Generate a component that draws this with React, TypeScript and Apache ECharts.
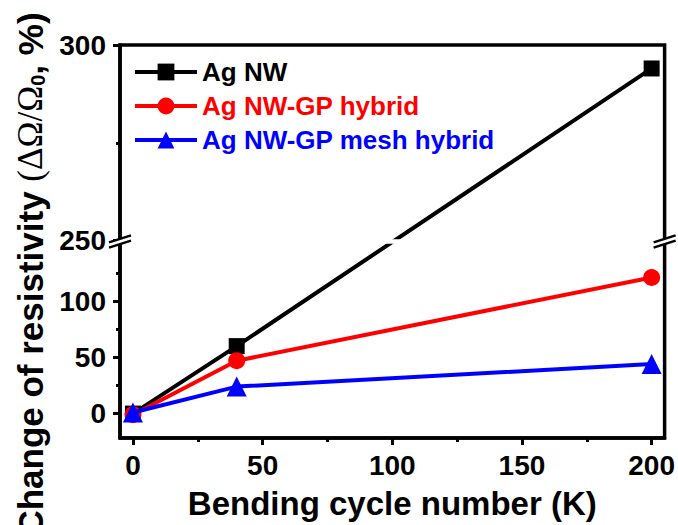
import React, { useEffect, useRef } from 'react';
import * as echarts from 'echarts';

// ---- data ----
const cycles = [0, 40, 200];
const agNW = [0, 60, 294];
const agNWGP = [-1, 47, 121];
const agNWGPMesh = [1, 24, 44];
const seriesNames = ['Ag NW', 'Ag NW-GP hybrid', 'Ag NW-GP mesh hybrid'];
const seriesValues = [agNW, agNWGP, agNWGPMesh];
const seriesColors = ['#000000', '#ff0000', '#0000ff'];
const seriesSymbols = ['rect', 'circle', 'triangle'];
const seriesSymbolSizes = [16, 17, 20];
const xMajorTicks = [0, 50, 100, 150, 200];
const xMinorTicks = [25, 75, 125, 175];
const yMajorTicks = [0, 50, 100, 250, 300];
const yMinorTicks = [25, 75, 125, 275];
const xRange = [-5, 205];
const lowerRange = [-21.7, 153];
const upperRange = [249.75, 300];
const LOWER_SHARE = 0.5;

const FONT = "'Liberation Sans', Arial, Helvetica, sans-serif";

// broken-axis mapping: value -> position on a 0..1 axis
function toAxis(v: number): number {
  if (v <= lowerRange[1]) {
    return ((v - lowerRange[0]) / (lowerRange[1] - lowerRange[0])) * LOWER_SHARE;
  }
  return LOWER_SHARE + ((v - upperRange[0]) / (upperRange[1] - upperRange[0])) * (1 - LOWER_SHARE);
}
function fromAxis(u: number): number {
  if (u <= LOWER_SHARE) {
    return lowerRange[0] + (u / LOWER_SHARE) * (lowerRange[1] - lowerRange[0]);
  }
  return upperRange[0] + ((u - LOWER_SHARE) / (1 - LOWER_SHARE)) * (upperRange[1] - upperRange[0]);
}

export default function App() {
  const ref = useRef<HTMLDivElement>(null);
  useEffect(() => {
    if (!ref.current) return;
    const chart = echarts.init(ref.current, null, { renderer: 'svg' });
    const axisLineStyle = { color: '#000', width: 3.5 };
    const option: any = {
      animation: false,
      backgroundColor: '#fff',
      grid: {
        left: 120, right: 13, top: 45, bottom: 78,
        show: true, borderColor: '#000', borderWidth: 3.5, containLabel: false,
      },
      legend: {
        orient: 'vertical',
        left: 128,
        top: 54,
        itemWidth: 62,
        itemHeight: 21,
        itemGap: 8,
        lineStyle: { width: 4 },
        textStyle: { fontFamily: FONT, fontWeight: 'bold', fontSize: 26 },
        data: seriesNames.map((n, i) => ({ name: n, textStyle: { color: seriesColors[i] } })),
      },
      xAxis: [
        {
          type: 'value', position: 'bottom', min: xRange[0], max: xRange[1],
          axisLine: { show: true, onZero: false, lineStyle: axisLineStyle },
          axisTick: { show: true, length: 7, customValues: xMajorTicks, lineStyle: { color: '#000', width: 3 } },
          axisLabel: {
            customValues: xMajorTicks, margin: 13, color: '#000',
            fontFamily: FONT, fontWeight: 'bold', fontSize: 28,
          },
          splitLine: { show: false },
          name: 'Bending cycle number (K)',
          nameLocation: 'middle',
          nameGap: 49,
          nameTextStyle: { fontFamily: FONT, fontWeight: 'bold', fontSize: 33, color: '#000' },
        },
        {
          type: 'value', position: 'bottom', min: xRange[0], max: xRange[1],
          axisLine: { show: false, onZero: false },
          axisTick: { show: true, length: 4, customValues: xMinorTicks, lineStyle: { color: '#000', width: 3 } },
          axisLabel: { show: false },
          splitLine: { show: false },
        },
      ],
      yAxis: [
        {
          type: 'value', position: 'left', min: 0, max: 1,
          axisLine: { show: true, onZero: false, lineStyle: axisLineStyle },
          axisTick: { show: true, length: 7, customValues: yMajorTicks.map(toAxis), lineStyle: { color: '#000', width: 3 } },
          axisLabel: {
            customValues: yMajorTicks.map(toAxis), margin: 14, color: '#000',
            fontFamily: FONT, fontWeight: 'bold', fontSize: 28,
            formatter: (u: number) => String(Math.round(fromAxis(u))),
          },
          splitLine: { show: false },
        },
        {
          type: 'value', position: 'left', min: 0, max: 1,
          axisLine: { show: false, onZero: false },
          axisTick: { show: true, length: 4, customValues: yMinorTicks.map(toAxis), lineStyle: { color: '#000', width: 3 } },
          axisLabel: { show: false },
          splitLine: { show: false },
        },
      ],
      series: seriesNames.map((name, i) => ({
        name,
        type: 'line',
        xAxisIndex: 0,
        yAxisIndex: 0,
        data: cycles.map((c, j) => [c, toAxis(seriesValues[i][j])]),
        symbol: seriesSymbols[i],
        symbolSize: seriesSymbolSizes[i],
        showAllSymbol: true,
        lineStyle: { color: seriesColors[i], width: 4 },
        itemStyle: { color: seriesColors[i] },
        z: 2 + i,
      })),
    };
    chart.setOption(option);

    const xL = chart.convertToPixel({ xAxisIndex: 0 }, xRange[0]) as number;
    const xR = chart.convertToPixel({ xAxisIndex: 0 }, xRange[1]) as number;
    const yb = chart.convertToPixel({ yAxisIndex: 0 }, LOWER_SHARE) as number;
    const half = 11, slant = 3.5, sep = 2.6;
    const breakMark = (x0: number) => [
      {
        type: 'polygon', z: 100,
        shape: { points: [[x0 - half, yb - sep + slant], [x0 + half, yb - sep - slant], [x0 + half, yb + sep - slant], [x0 - half, yb + sep + slant]] },
        style: { fill: '#fff', stroke: null },
      },
      {
        type: 'line', z: 101,
        shape: { x1: x0 - half, y1: yb - sep + slant, x2: x0 + half, y2: yb - sep - slant },
        style: { stroke: '#000', lineWidth: 2.5 },
      },
      {
        type: 'line', z: 101,
        shape: { x1: x0 - half, y1: yb + sep + slant, x2: x0 + half, y2: yb + sep - slant },
        style: { stroke: '#000', lineWidth: 2.5 },
      },
    ];
    chart.setOption({
      graphic: [
        {
          type: 'rect', z: 99,
          shape: { x: xL + 2, y: yb - 2.2, width: xR - xL - 4, height: 4.4 },
          style: { fill: '#fff' },
        },
        ...breakMark(xL),
        ...breakMark(xR),
        {
          type: 'text', z: 100,
          x: 30, y: 274, rotation: Math.PI / 2,
          style: {
            text: '{a|Change of resistivity }{s|(ΔΩ/Ω}{c|0}{a|, %)}',
            align: 'center', verticalAlign: 'middle',
            fill: '#000',
            rich: {
              a: { fontFamily: FONT, fontWeight: 'bold', fontSize: 35, fill: '#000' },
              s: { fontFamily: "'Liberation Serif', 'Times New Roman', serif", fontWeight: 'normal', fontSize: 35, fill: '#000' },
              c: { fontFamily: FONT, fontWeight: 'bold', fontSize: 20, fill: '#000', verticalAlign: 'bottom', padding: [14, 0, 0, 0] },
            },
          },
        },
      ],
    });

    return () => chart.dispose();
  }, []);
  return <div ref={ref} style={{ position: 'absolute', left: 0, top: 0, width: 678, height: 525 }} />;
}
